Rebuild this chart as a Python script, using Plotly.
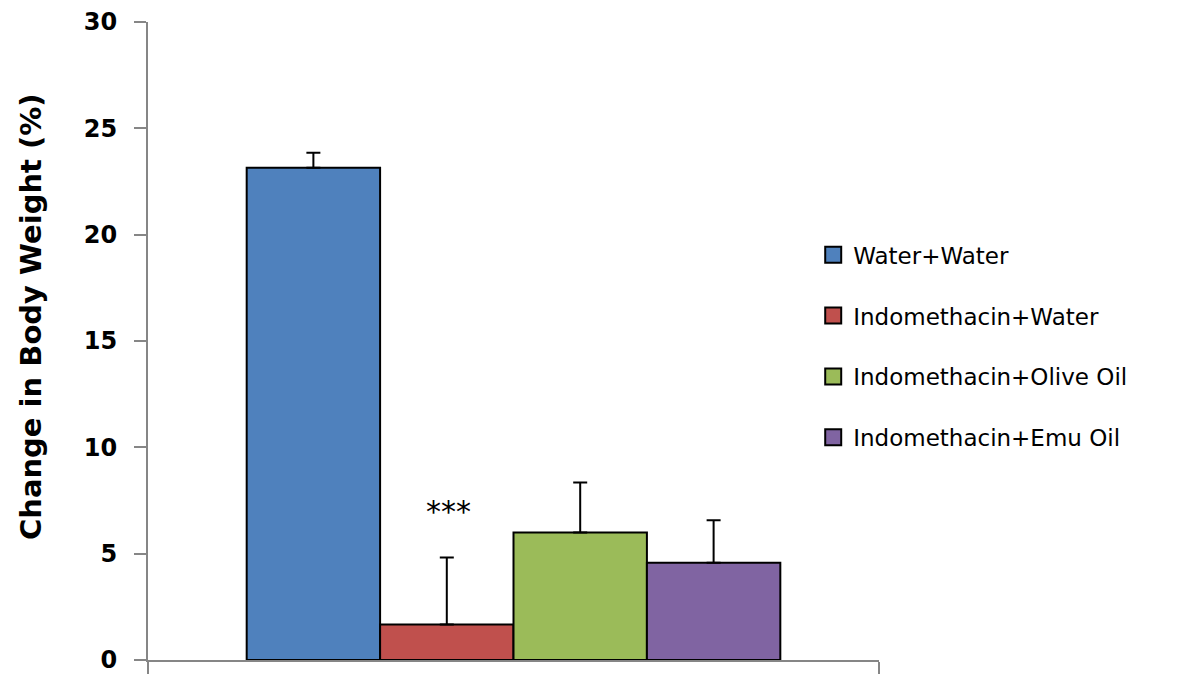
import plotly.graph_objects as go

groups = ["Water+Water", "Indomethacin+Water", "Indomethacin+Olive Oil", "Indomethacin+Emu Oil"]
values = [23.15, 1.67, 6.0, 4.57]
errors = [0.7, 3.15, 2.35, 2.0]
colors = ["#4F81BD", "#C0504D", "#9BBB59", "#8064A2"]
y_ticks = [0, 5, 10, 15, 20, 25, 30]
significance = "***"

fig = go.Figure()
for i, (name, v, e, c) in enumerate(zip(groups, values, errors, colors)):
    fig.add_trace(go.Bar(
        x=[0], y=[v], name=name, showlegend=False,
        marker=dict(color=c, line=dict(color="black", width=2)),
        error_y=dict(type="data", array=[e], arrayminus=[0], symmetric=False,
                     color="black", thickness=2, width=7),
    ))
for i, (name, c) in enumerate(zip(groups, colors)):
    fig.add_trace(go.Scatter(
        x=[None], y=[None], mode="markers", name=name, legendgroup=str(i),
        marker=dict(symbol="square", size=16, color=c, line=dict(color="black", width=2)),
    ))

# significance marker above the Indomethacin+Water bar
fig.add_annotation(x=0, y=values[1] + errors[1], xref="x", yref="y",
                   text=significance, showarrow=False, yshift=46, xshift=-65,
                   xanchor="center", yanchor="middle",
                   font=dict(family="DejaVu Sans", size=30, color="black"))

fig.add_annotation(text="Change in Body Weight (%)", textangle=-90,
                   xref="paper", yref="paper", x=-0.16, y=0.5376,
                   xanchor="center", yanchor="middle",
                   showarrow=False,
                   font=dict(family="DejaVu Sans", size=29, color="black", weight="bold"))

fig.update_layout(
    width=1189, height=679,
    margin=dict(l=148, r=310, t=22, b=19),
    paper_bgcolor="white", plot_bgcolor="white",
    barmode="group", bargap=0.27, bargroupgap=0,
    legend=dict(x=0.91, y=0.669, xanchor="left", yanchor="top",
                font=dict(family="DejaVu Sans", size=23, color="black"),
                tracegroupgap=28, bgcolor="rgba(0,0,0,0)"),
    xaxis=dict(range=[-0.5, 0.5], tickvals=[-0.5, 0.5], showticklabels=False,
               ticks="outside", ticklen=12, tickcolor="#868686", tickwidth=2,
               showline=True, linecolor="#868686", linewidth=2,
               showgrid=False, zeroline=False, automargin=False),
    yaxis=dict(range=[0, 30], tickvals=y_ticks, ticks="outside", ticklen=12,
               tickcolor="#868686", tickwidth=2, ticklabelstandoff=12,
               showline=True, linecolor="#868686", linewidth=2,
               showgrid=False, zeroline=False, automargin=False,
               tickfont=dict(family="DejaVu Sans", size=24, color="black", weight="bold")),
)

fig.write_html("out.html", config={"displayModeBar": False},
               post_script="document.body.style.margin='0';")
